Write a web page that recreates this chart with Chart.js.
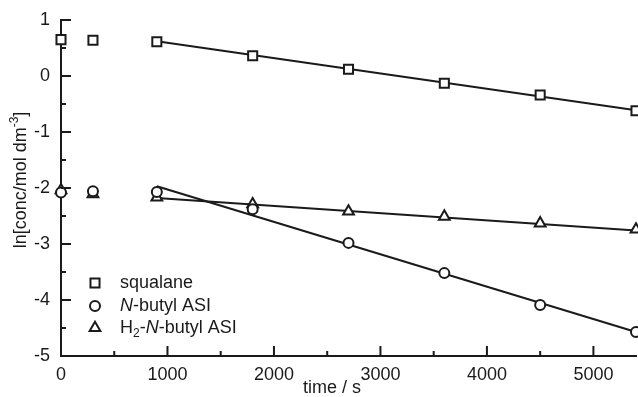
<!DOCTYPE html>
<html>
<head>
<meta charset="utf-8">
<script src="https://cdn.jsdelivr.net/npm/chart.js@4/dist/chart.umd.min.js"></script>
<style>
  body { margin: 0; background: #fff; }
  canvas { display: block; }
</style>
</head>
<body>
<canvas id="myChart" width="638" height="397"></canvas>
<script>
// data
const times = [0, 300, 900, 1800, 2700, 3600, 4500, 5400];
const squalane = [0.65, 0.64, 0.61, 0.36, 0.12, -0.13, -0.34, -0.62];
const butyl = [-2.08, -2.06, -2.07, -2.38, -2.98, -3.52, -4.09, -4.57];
const h2butyl = [-2.04, -2.11, -2.17, -2.29, -2.42, -2.51, -2.63, -2.74];

// fitted lines, start and end
const fitTimes = [900, 5400];
const squalaneFit = [0.62, -0.61];
const butylFit = [-1.97, -4.57];
const h2butylFit = [-2.18, -2.76];

const xTicks = [0, 1000, 2000, 3000, 4000, 5000];
const xMinor = [500, 1500, 2500, 3500, 4500];
const yTicks = [-5, -4, -3, -2, -1, 0, 1];
const yMinor = [-4.5, -3.5, -2.5, -1.5, -0.5, 0.5];

const FONT = '"Liberation Sans", Arial, sans-serif';
const INK = '#1a1a1a';
const FS = 18;

const pts = (xs, ys) => xs.map((x, i) => ({ x: x, y: ys[i] }));

// inward tick marks, axis titles and the legend
const extras = {
    id: 'extras',
    afterDraw(chart) {
        const ctx = chart.ctx;
        const xs = chart.scales.x;
        const ys = chart.scales.y;
        const area = chart.chartArea;
        ctx.save();
        ctx.strokeStyle = INK;
        ctx.lineWidth = 2;
        ctx.beginPath();
        xTicks.forEach(v => {
            const p = xs.getPixelForValue(v);
            ctx.moveTo(p, area.bottom); ctx.lineTo(p, area.bottom - 10);
        });
        xMinor.forEach(v => {
            const p = xs.getPixelForValue(v);
            ctx.moveTo(p, area.bottom); ctx.lineTo(p, area.bottom - 5);
        });
        yTicks.forEach(v => {
            const p = ys.getPixelForValue(v);
            ctx.moveTo(area.left, p); ctx.lineTo(area.left + 10, p);
        });
        yMinor.forEach(v => {
            const p = ys.getPixelForValue(v);
            ctx.moveTo(area.left, p); ctx.lineTo(area.left + 5, p);
        });
        ctx.stroke();

        ctx.fillStyle = INK;
        // x title
        ctx.font = FS + 'px ' + FONT;
        ctx.textAlign = 'center';
        ctx.textBaseline = 'middle';
        ctx.fillText('time / s', 332, 388);

        // y title with superscript
        ctx.save();
        ctx.translate(21, 180);
        ctx.rotate(-Math.PI / 2);
        ctx.textAlign = 'left';
        const a = 'ln[conc/mol dm', sup = '-3', b = ']';
        ctx.font = FS + 'px ' + FONT;
        const wa = ctx.measureText(a).width, wb = ctx.measureText(b).width;
        ctx.font = '12px ' + FONT;
        const ws = ctx.measureText(sup).width;
        let x0 = -(wa + ws + wb) / 2;
        ctx.font = FS + 'px ' + FONT;
        ctx.fillText(a, x0, 0);
        ctx.font = '12px ' + FONT;
        ctx.fillText(sup, x0 + wa, -6);
        ctx.font = FS + 'px ' + FONT;
        ctx.fillText(b, x0 + wa + ws, 0);
        ctx.restore();

        // legend
        const rows = [
            { style: 'rect', r: 6.4, y: 283, parts: [['squalane', '']] },
            { style: 'circle', r: 5, y: 306, parts: [['N', 'italic'], ['-butyl ASI', '']] },
            { style: 'triangle', r: 6.2, y: 328, parts: [['H', ''], ['2', 'sub'], ['-', ''], ['N', 'italic'], ['-butyl ASI', '']] }
        ];
        rows.forEach(row => {
            ctx.fillStyle = '#fff';
            ctx.strokeStyle = INK;
            ctx.lineWidth = 2;
            Chart.helpers.drawPoint(ctx, { pointStyle: row.style, radius: row.r, borderWidth: 2 }, 95, row.y);
            ctx.fillStyle = INK;
            ctx.textAlign = 'left';
            let x = 120;
            row.parts.forEach(([t, k]) => {
                let dy = 0;
                if (k === 'italic') ctx.font = 'italic ' + FS + 'px ' + FONT;
                else if (k === 'sub') { ctx.font = '12px ' + FONT; dy = 6; }
                else ctx.font = FS + 'px ' + FONT;
                ctx.fillText(t, x, row.y + dy);
                x += ctx.measureText(t).width;
            });
        });
        ctx.restore();
    }
};

const markerDs = (label, ys, style, r) => ({
    label: label,
    data: pts(times, ys),
    pointStyle: style,
    pointRadius: r,
    pointBorderWidth: 2,
    pointBorderColor: INK,
    pointBackgroundColor: '#fff',
    showLine: false,
    clip: false,
    order: 1
});
const fitDs = (label, ys) => ({
    type: 'line',
    label: label,
    data: pts(fitTimes, ys),
    borderColor: INK,
    borderWidth: 2,
    pointRadius: 0,
    fill: false,
    clip: false,
    order: 2
});

const ctx = document.getElementById('myChart').getContext('2d');
const myChart = new Chart(ctx, {
    type: 'scatter',
    data: {
        datasets: [
            markerDs('squalane', squalane, 'rect', 6.4),
            markerDs('N-butyl ASI', butyl, 'circle', 5),
            markerDs('H2-N-butyl ASI', h2butyl, 'triangle', 6.2),
            fitDs('squalane fit', squalaneFit),
            fitDs('N-butyl fit', butylFit),
            fitDs('H2 fit', h2butylFit)
        ]
    },
    options: {
        responsive: false,
        animation: false,
        devicePixelRatio: 1,
        layout: { autoPadding: false, padding: { top: 20, right: 2, left: 0, bottom: 0 } },
        plugins: { legend: { display: false }, tooltip: { enabled: false } },
        scales: {
            x: {
                type: 'linear',
                min: 0,
                max: 5400,
                afterBuildTicks: s => { s.ticks = xTicks.map(v => ({ value: v })); },
                afterFit: s => { s.height = 41; s.paddingLeft = 0; s.paddingRight = 0; },
                grid: { display: false, drawTicks: false },
                border: { display: true, color: INK, width: 2 },
                ticks: { color: INK, font: { family: FONT, size: FS }, padding: 8, maxRotation: 0,
                         callback: v => String(v) }
            },
            y: {
                type: 'linear',
                min: -5,
                max: 1,
                afterBuildTicks: s => { s.ticks = yTicks.map(v => ({ value: v })); },
                afterFit: s => { s.width = 61; s.paddingTop = 0; s.paddingBottom = 0; },
                grid: { display: false, drawTicks: false },
                border: { display: true, color: INK, width: 2 },
                ticks: { color: INK, font: { family: FONT, size: FS }, padding: 11,
                         callback: v => String(v) }
            }
        }
    },
    plugins: [extras]
});

myChart;
</script>
</body>
</html>
